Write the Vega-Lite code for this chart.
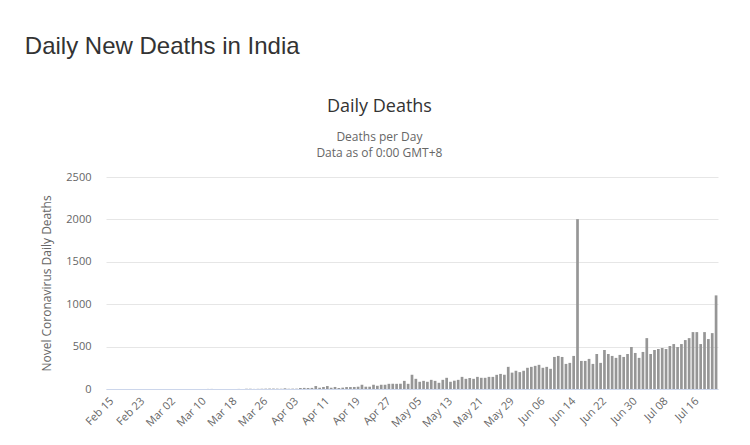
{
  "$schema": "https://vega.github.io/schema/vega-lite/v6.json",
  "background": "white",
  "padding": {"left": 24, "top": 35, "right": 30, "bottom": 5},
  "title": {"text": "Daily New Deaths in India", "anchor": "start", "frame": "bounds", "font": "Liberation Sans", "fontSize": 24, "fontWeight": "normal", "color": "#333333", "dx": -16, "offset": 39},
  "config": {"view": {"stroke": null}, "font": "Open Sans"},
  "vconcat": [
    {
      "width": 612,
      "height": 212,
      "title": {"text": "Daily Deaths", "subtitle": ["Deaths per Day", "Data as of 0:00 GMT+8"], "frame": "bounds", "anchor": "middle", "font": "Open Sans", "fontSize": 18, "fontWeight": "normal", "color": "#333333", "subtitleFont": "Open Sans", "subtitleFontSize": 12, "subtitleColor": "#666666", "subtitlePadding": 16, "subtitleLineHeight": 16, "offset": 12},
      "data": {"values": [
        {"date":"2020-02-15","deaths":0},{"date":"2020-02-16","deaths":0},{"date":"2020-02-17","deaths":0},{"date":"2020-02-18","deaths":0},{"date":"2020-02-19","deaths":0},{"date":"2020-02-20","deaths":0},{"date":"2020-02-21","deaths":0},{"date":"2020-02-22","deaths":0},{"date":"2020-02-23","deaths":0},{"date":"2020-02-24","deaths":0},{"date":"2020-02-25","deaths":0},{"date":"2020-02-26","deaths":0},{"date":"2020-02-27","deaths":0},{"date":"2020-02-28","deaths":0},{"date":"2020-02-29","deaths":0},
        {"date":"2020-03-01","deaths":0},{"date":"2020-03-02","deaths":0},{"date":"2020-03-03","deaths":0},{"date":"2020-03-04","deaths":0},{"date":"2020-03-05","deaths":0},{"date":"2020-03-06","deaths":0},{"date":"2020-03-07","deaths":0},{"date":"2020-03-08","deaths":0},{"date":"2020-03-09","deaths":0},{"date":"2020-03-10","deaths":0},{"date":"2020-03-11","deaths":0},{"date":"2020-03-12","deaths":1},{"date":"2020-03-13","deaths":1},{"date":"2020-03-14","deaths":0},{"date":"2020-03-15","deaths":0},{"date":"2020-03-16","deaths":0},{"date":"2020-03-17","deaths":1},{"date":"2020-03-18","deaths":0},{"date":"2020-03-19","deaths":1},{"date":"2020-03-20","deaths":1},{"date":"2020-03-21","deaths":0},{"date":"2020-03-22","deaths":3},{"date":"2020-03-23","deaths":3},{"date":"2020-03-24","deaths":1},{"date":"2020-03-25","deaths":2},{"date":"2020-03-26","deaths":3},{"date":"2020-03-27","deaths":4},{"date":"2020-03-28","deaths":5},{"date":"2020-03-29","deaths":5},{"date":"2020-03-30","deaths":4},{"date":"2020-03-31","deaths":3},
        {"date":"2020-04-01","deaths":8},{"date":"2020-04-02","deaths":3},{"date":"2020-04-03","deaths":4},{"date":"2020-04-04","deaths":4},{"date":"2020-04-05","deaths":12},{"date":"2020-04-06","deaths":13},{"date":"2020-04-07","deaths":12},{"date":"2020-04-08","deaths":13},{"date":"2020-04-09","deaths":35},{"date":"2020-04-10","deaths":15},{"date":"2020-04-11","deaths":24},{"date":"2020-04-12","deaths":35},{"date":"2020-04-13","deaths":15},{"date":"2020-04-14","deaths":24},{"date":"2020-04-15","deaths":12},{"date":"2020-04-16","deaths":16},{"date":"2020-04-17","deaths":23},{"date":"2020-04-18","deaths":23},{"date":"2020-04-19","deaths":24},{"date":"2020-04-20","deaths":27},{"date":"2020-04-21","deaths":50},{"date":"2020-04-22","deaths":27},{"date":"2020-04-23","deaths":27},{"date":"2020-04-24","deaths":50},{"date":"2020-04-25","deaths":38},{"date":"2020-04-26","deaths":50},{"date":"2020-04-27","deaths":50},{"date":"2020-04-28","deaths":61},{"date":"2020-04-29","deaths":62},{"date":"2020-04-30","deaths":61},
        {"date":"2020-05-01","deaths":62},{"date":"2020-05-02","deaths":96},{"date":"2020-05-03","deaths":61},{"date":"2020-05-04","deaths":168},{"date":"2020-05-05","deaths":120},{"date":"2020-05-06","deaths":85},{"date":"2020-05-07","deaths":96},{"date":"2020-05-08","deaths":85},{"date":"2020-05-09","deaths":108},{"date":"2020-05-10","deaths":96},{"date":"2020-05-11","deaths":73},{"date":"2020-05-12","deaths":108},{"date":"2020-05-13","deaths":132},{"date":"2020-05-14","deaths":85},{"date":"2020-05-15","deaths":98},{"date":"2020-05-16","deaths":108},{"date":"2020-05-17","deaths":143},{"date":"2020-05-18","deaths":120},{"date":"2020-05-19","deaths":130},{"date":"2020-05-20","deaths":120},{"date":"2020-05-21","deaths":143},{"date":"2020-05-22","deaths":132},{"date":"2020-05-23","deaths":132},{"date":"2020-05-24","deaths":143},{"date":"2020-05-25","deaths":143},{"date":"2020-05-26","deaths":167},{"date":"2020-05-27","deaths":178},{"date":"2020-05-28","deaths":168},{"date":"2020-05-29","deaths":261},{"date":"2020-05-30","deaths":193},{"date":"2020-05-31","deaths":215},
        {"date":"2020-06-01","deaths":199},{"date":"2020-06-02","deaths":215},{"date":"2020-06-03","deaths":250},{"date":"2020-06-04","deaths":261},{"date":"2020-06-05","deaths":273},{"date":"2020-06-06","deaths":285},{"date":"2020-06-07","deaths":250},{"date":"2020-06-08","deaths":261},{"date":"2020-06-09","deaths":238},{"date":"2020-06-10","deaths":378},{"date":"2020-06-11","deaths":390},{"date":"2020-06-12","deaths":378},{"date":"2020-06-13","deaths":296},{"date":"2020-06-14","deaths":308},{"date":"2020-06-15","deaths":390},{"date":"2020-06-16","deaths":2003},{"date":"2020-06-17","deaths":331},{"date":"2020-06-18","deaths":331},{"date":"2020-06-19","deaths":355},{"date":"2020-06-20","deaths":296},{"date":"2020-06-21","deaths":413},{"date":"2020-06-22","deaths":308},{"date":"2020-06-23","deaths":460},{"date":"2020-06-24","deaths":413},{"date":"2020-06-25","deaths":390},{"date":"2020-06-26","deaths":367},{"date":"2020-06-27","deaths":402},{"date":"2020-06-28","deaths":378},{"date":"2020-06-29","deaths":413},{"date":"2020-06-30","deaths":495},
        {"date":"2020-07-01","deaths":425},{"date":"2020-07-02","deaths":367},{"date":"2020-07-03","deaths":437},{"date":"2020-07-04","deaths":600},{"date":"2020-07-05","deaths":413},{"date":"2020-07-06","deaths":460},{"date":"2020-07-07","deaths":472},{"date":"2020-07-08","deaths":484},{"date":"2020-07-09","deaths":472},{"date":"2020-07-10","deaths":507},{"date":"2020-07-11","deaths":530},{"date":"2020-07-12","deaths":495},{"date":"2020-07-13","deaths":530},{"date":"2020-07-14","deaths":577},{"date":"2020-07-15","deaths":600},{"date":"2020-07-16","deaths":671},{"date":"2020-07-17","deaths":671},{"date":"2020-07-18","deaths":530},{"date":"2020-07-19","deaths":671},{"date":"2020-07-20","deaths":589},{"date":"2020-07-21","deaths":659},{"date":"2020-07-22","deaths":1104}
      ]},
      "mark": {"type": "bar", "color": "#969696"},
      "encoding": {
        "x": {
          "field": "date", "type": "ordinal",
          "scale": {"paddingInner": 0.3, "paddingOuter": 0.15},
          "axis": {
            "title": null,
            "values": ["2020-02-15","2020-02-23","2020-03-02","2020-03-10","2020-03-18","2020-03-26","2020-04-03","2020-04-11","2020-04-19","2020-04-27","2020-05-05","2020-05-13","2020-05-21","2020-05-29","2020-06-06","2020-06-14","2020-06-22","2020-06-30","2020-07-08","2020-07-16"],
            "labelExpr": "utcFormat(toDate(datum.value), '%b %d')",
            "labelAngle": -45,
            "labelFont": "Open Sans",
            "labelFontSize": 11,
            "labelColor": "#666666",
            "labelPadding": 6,
            "ticks": false,
            "domainColor": "#ccd6eb",
            "grid": false
          }
        },
        "y": {
          "field": "deaths", "type": "quantitative",
          "scale": {"domain": [0, 2500], "nice": false},
          "axis": {
            "values": [0, 500, 1000, 1500, 2000, 2500],
            "format": "d",
            "title": "Novel Coronavirus Daily Deaths",
            "titleFont": "Open Sans",
            "titleFontSize": 12,
            "titleFontWeight": "normal",
            "titleColor": "#666666",
            "titlePadding": 12,
            "labelFont": "Open Sans",
            "labelFontSize": 11,
            "labelColor": "#666666",
            "labelPadding": 15,
            "ticks": false,
            "domain": false,
            "gridColor": "#e6e6e6"
          }
        }
      }
    }
  ]
}
